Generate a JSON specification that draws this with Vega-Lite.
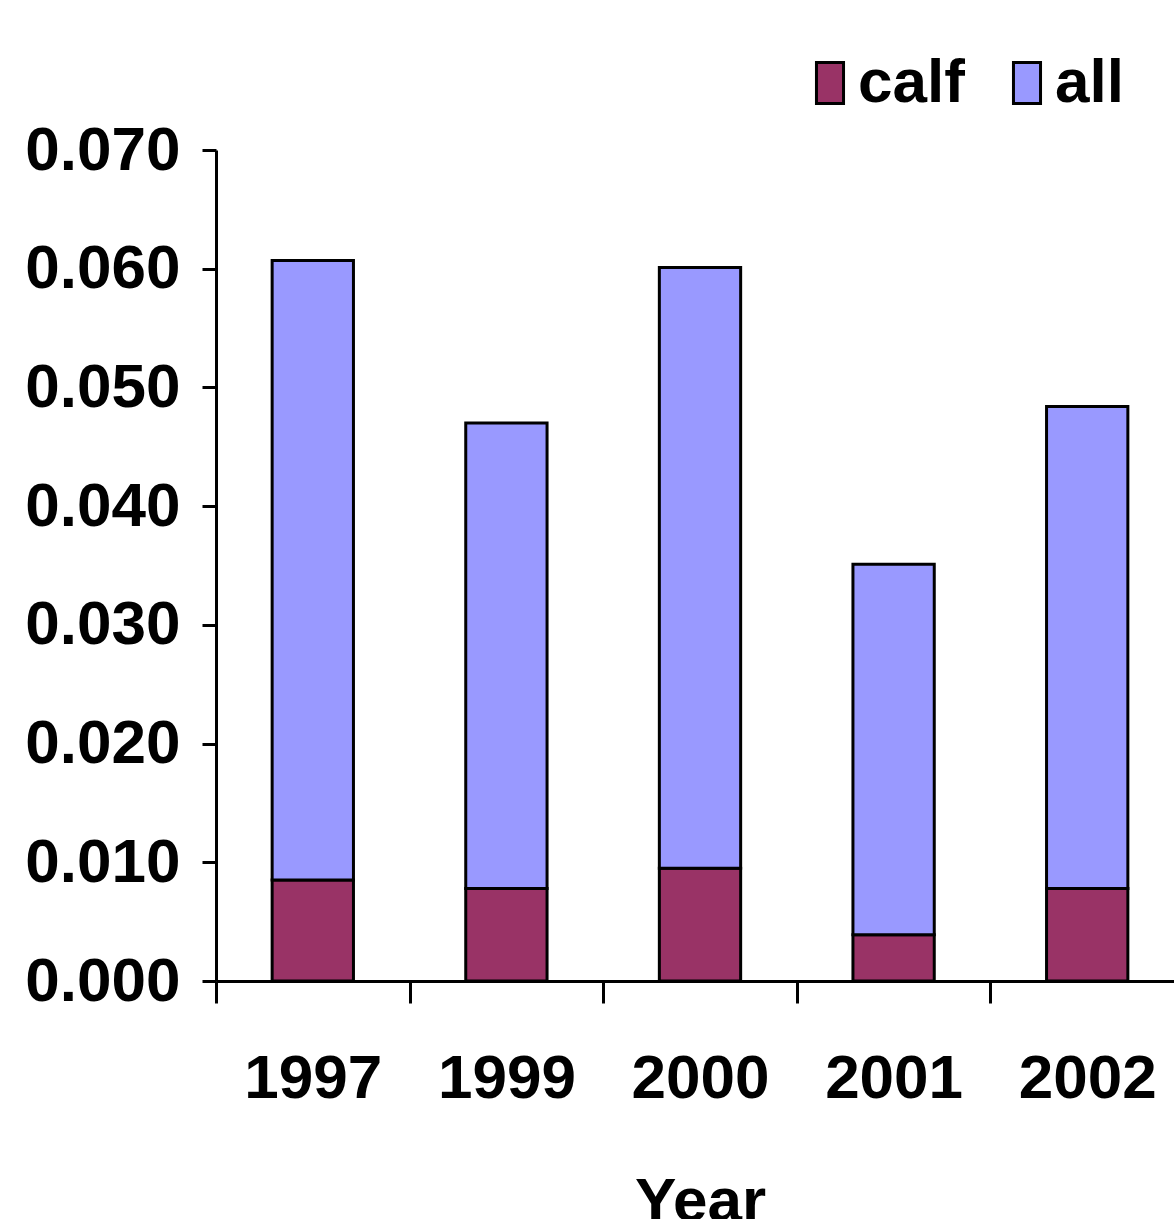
{
  "$schema": "https://vega.github.io/schema/vega-lite/v6.json",
  "autosize": {"type": "none"},
  "width": 968,
  "height": 831,
  "padding": {"left": 216, "top": 150, "right": 0, "bottom": 238},
  "background": "white",
  "config": {
    "view": {"stroke": null},
    "font": "Liberation Sans",
    "axis": {
      "labelFont": "Liberation Sans",
      "labelFontWeight": "bold",
      "labelColor": "black",
      "titleFont": "Liberation Sans",
      "titleFontWeight": "bold",
      "titleColor": "black",
      "domainColor": "black",
      "domainWidth": 3,
      "tickColor": "black",
      "tickWidth": 3,
      "grid": false
    }
  },
  "data": {
    "values": [
      {"year": "1997", "series": "calf", "value": 0.0085},
      {"year": "1997", "series": "all", "value": 0.0522},
      {"year": "1999", "series": "calf", "value": 0.0078},
      {"year": "1999", "series": "all", "value": 0.0392},
      {"year": "2000", "series": "calf", "value": 0.0095},
      {"year": "2000", "series": "all", "value": 0.0506},
      {"year": "2001", "series": "calf", "value": 0.0039},
      {"year": "2001", "series": "all", "value": 0.0312},
      {"year": "2002", "series": "calf", "value": 0.0078},
      {"year": "2002", "series": "all", "value": 0.0406}
    ]
  },
  "mark": {"type": "bar", "stroke": "black", "strokeWidth": 3},
  "encoding": {
    "x": {
      "field": "year",
      "type": "ordinal",
      "scale": {"paddingInner": 0.58, "paddingOuter": 0.29},
      "axis": {
        "title": "Year",
        "labelAngle": 0,
        "labelFontSize": 62,
        "labelPadding": 45,
        "labelOffset": 96.8,
        "tickSize": 22,
        "tickOffset": -96.8,
        "titleFontSize": 62,
        "titlePadding": 62
      }
    },
    "y": {
      "field": "value",
      "type": "quantitative",
      "stack": "zero",
      "scale": {"domain": [0, 0.07], "nice": false},
      "axis": {
        "title": null,
        "format": ".3f",
        "values": [0, 0.01, 0.02, 0.03, 0.04, 0.05, 0.06, 0.07],
        "labelFontSize": 62,
        "labelPadding": 22,
        "tickSize": 14
      }
    },
    "color": {
      "field": "series",
      "type": "nominal",
      "scale": {"domain": ["calf", "all"], "range": ["#993366", "#9999FF"]},
      "legend": {
        "title": null,
        "orient": "none",
        "legendX": 583,
        "legendY": -98,
        "direction": "horizontal",
        "symbolType": "M-0.66,-1H0.66V1H-0.66Z",
        "symbolSize": 1681,
        "symbolStrokeColor": "black",
        "symbolStrokeWidth": 3,
        "symbolOpacity": 1,
        "labelFont": "Liberation Sans",
        "labelFontWeight": "bold",
        "labelFontSize": 62,
        "labelColor": "black",
        "labelOffset": -3,
        "columnPadding": 31
      }
    },
    "order": {"field": "series", "sort": "descending"}
  }
}
